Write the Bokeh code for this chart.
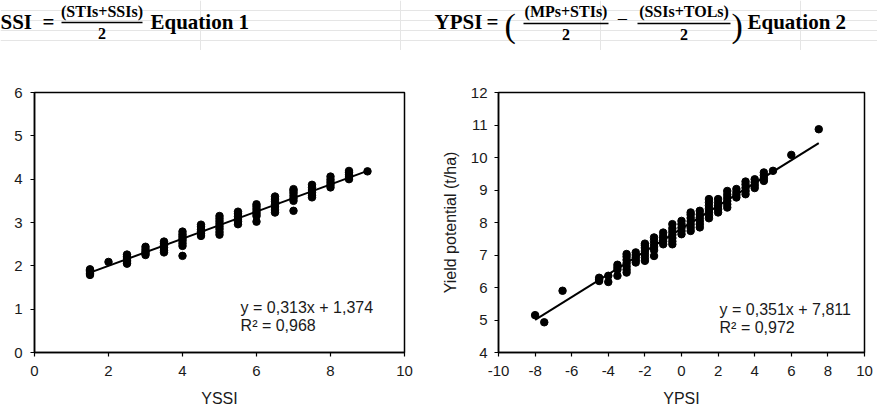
import math
from bokeh.plotting import figure
from bokeh.layouts import column, row
from bokeh.models import Range1d, SingleIntervalTicker, ColumnDataSource, PrintfTickFormatter
from bokeh.core.properties import value
from bokeh.embed import file_html
from bokeh.resources import INLINE

# ---------------- data ----------------
# Panel 1: YSSI vs yield under stress
yssi_x = [1.5, 1.5, 1.5, 1.5, 1.5,
          2.0,
          2.5, 2.5, 2.5, 2.5, 2.5, 2.5,
          3.0, 3.0, 3.0, 3.0, 3.0,
          3.5, 3.5, 3.5, 3.5, 3.5, 3.5,
          4.0, 4.0, 4.0, 4.0, 4.0, 4.0, 4.0, 4.0,
          4.5, 4.5, 4.5, 4.5, 4.5, 4.5,
          5.0, 5.0, 5.0, 5.0, 5.0, 5.0, 5.0, 5.0,
          5.5, 5.5, 5.5, 5.5, 5.5, 5.5,
          6.0, 6.0, 6.0, 6.0, 6.0, 6.0, 6.0,
          6.5, 6.5, 6.5, 6.5, 6.5, 6.5, 6.5,
          7.0, 7.0, 7.0, 7.0, 7.0, 7.0, 7.0,
          7.5, 7.5, 7.5, 7.5, 7.5, 7.5,
          8.0, 8.0, 8.0, 8.0, 8.0,
          8.5, 8.5, 8.5, 8.5, 8.5,
          9.0]
ys_y = [1.79, 1.83, 1.86, 1.89, 1.92,
        2.09,
        2.05, 2.09, 2.13, 2.18, 2.22, 2.26,
        2.25, 2.29, 2.33, 2.38, 2.44,
        2.31, 2.36, 2.42, 2.47, 2.52, 2.56,
        2.23, 2.46, 2.52, 2.58, 2.63, 2.68, 2.73, 2.79,
        2.69, 2.74, 2.79, 2.84, 2.90, 2.95,
        2.72, 2.78, 2.85, 2.91, 2.97, 3.03, 3.09, 3.15,
        2.96, 3.02, 3.08, 3.14, 3.20, 3.25,
        3.02, 3.15, 3.20, 3.25, 3.31, 3.37, 3.42,
        3.23, 3.29, 3.36, 3.42, 3.48, 3.54, 3.60,
        3.27, 3.50, 3.56, 3.62, 3.68, 3.73, 3.77,
        3.58, 3.63, 3.69, 3.75, 3.81, 3.87,
        3.81, 3.87, 3.93, 3.99, 4.06,
        4.00, 4.05, 4.10, 4.15, 4.19,
        4.18]
fit1_slope = 0.313
fit1_intercept = 1.374
fit1_text = ["y = 0,313x + 1,374", "R² = 0,968"]

# Panel 2: YPSI vs yield potential
ypsi_x = [-8.0, -7.5, -6.5,
          -4.5, -4.5, -4.5,
          -4.0, -4.0,
          -3.5, -3.5, -3.5, -3.5,
          -3.0, -3.0, -3.0, -3.0, -3.0, -3.0, -3.0,
          -2.5, -2.5, -2.5, -2.5, -2.5,
          -2.0, -2.0, -2.0, -2.0, -2.0, -2.0, -2.0,
          -1.5, -1.5, -1.5, -1.5, -1.5, -1.5,
          -1.0, -1.0, -1.0, -1.0, -1.0,
          -0.5, -0.5, -0.5, -0.5, -0.5, -0.5, -0.5,
          0.0, 0.0, 0.0, 0.0, 0.0,
          0.5, 0.5, 0.5, 0.5, 0.5, 0.5, 0.5,
          1.0, 1.0, 1.0, 1.0, 1.0, 1.0,
          1.5, 1.5, 1.5, 1.5, 1.5, 1.5, 1.5,
          2.0, 2.0, 2.0, 2.0, 2.0,
          2.5, 2.5, 2.5, 2.5, 2.5, 2.5,
          3.0, 3.0, 3.0, 3.0,
          3.5, 3.5, 3.5, 3.5, 3.5,
          4.0, 4.0, 4.0, 4.0,
          4.5, 4.5, 4.5, 4.5,
          5.0, 6.0, 7.5]
yp_y = [5.15, 4.93, 5.90,
        6.20, 6.25, 6.30,
        6.17, 6.36,
        6.36, 6.55, 6.62, 6.70,
        6.46, 6.55, 6.65, 6.75, 6.85, 6.95, 7.03,
        6.77, 6.85, 6.93, 7.00, 7.08,
        6.82, 6.92, 7.02, 7.12, 7.22, 7.30, 7.35,
        6.97, 7.15, 7.25, 7.35, 7.45, 7.54,
        7.33, 7.42, 7.50, 7.58, 7.69,
        7.33, 7.42, 7.52, 7.62, 7.72, 7.82, 7.95,
        7.64, 7.74, 7.84, 7.95, 8.05,
        7.74, 7.84, 7.94, 8.04, 8.14, 8.24, 8.31,
        7.85, 7.95, 8.05, 8.15, 8.25, 8.36,
        8.13, 8.22, 8.32, 8.42, 8.52, 8.62, 8.72,
        8.31, 8.41, 8.51, 8.61, 8.72,
        8.46, 8.56, 8.66, 8.76, 8.86, 8.97,
        8.77, 8.85, 8.93, 9.03,
        8.87, 8.97, 9.07, 9.17, 9.26,
        9.06, 9.15, 9.24, 9.33,
        9.28, 9.36, 9.45, 9.54,
        9.59, 10.08, 10.87]
fit2_slope = 0.351
fit2_intercept = 7.811
fit2_text = ["y = 0,351x + 7,811", "R² = 0,972"]

x1_label = "YSSI"
x2_label = "YPSI"
y2_label = "Yield potential (t/ha)"

eq1_parts = ["SSI", "=", "(STIs+SSIs)", "2", "Equation 1"]
eq2_parts = ["YPSI", "=", "(MPs+STIs)", "2", "−", "(SSIs+TOLs)", "2", "Equation 2"]

# ---------------- styling helpers ----------------
SANS = "Liberation Sans"
SERIF = "Liberation Serif"
TXT = "#1a1a1a"


def style_axes(p, xint, yint, y_standoff):
    p.xaxis.ticker = SingleIntervalTicker(interval=xint, num_minor_ticks=0)
    p.yaxis.ticker = SingleIntervalTicker(interval=yint, num_minor_ticks=0)
    for ax in (p.xaxis, p.yaxis):
        ax.formatter = PrintfTickFormatter(format="%d")
        ax.axis_line_color = "black"
        ax.axis_line_width = 1.5
        ax.major_tick_line_color = "black"
        ax.major_tick_line_width = 1.2
        ax.major_tick_out = 4
        ax.major_tick_in = 0
        ax.minor_tick_line_color = None
        ax.major_label_text_font = SANS
        ax.major_label_text_font_size = "15px"
        ax.major_label_text_color = TXT
        ax.axis_label_text_font = SANS
        ax.axis_label_text_font_size = "16px"
        ax.axis_label_text_font_style = "normal"
        ax.axis_label_text_color = TXT
    p.xaxis.major_label_standoff = 9
    p.yaxis.major_label_standoff = y_standoff
    p.xaxis.axis_label_standoff = 11
    p.grid.visible = False
    p.outline_line_color = "black"
    p.outline_line_width = 1.5
    p.background_fill_color = "white"
    p.border_fill_color = "white"


def add_panel_data(p, xs, ys, slope, intercept, texts, tx, ty1, ty2):
    p.scatter(xs, ys, marker="circle", size=7.5, color="black")
    xl = [min(xs), max(xs)]
    yl = [slope * v + intercept for v in xl]
    p.line(xl, yl, line_color="black", line_width=2)
    src = ColumnDataSource(dict(x=[tx, tx], y=[ty1, ty2], t=texts))
    p.text(x="x", y="y", text="t", source=src, text_font=value(SANS),
           text_font_size="16px", text_color=TXT, text_align="left",
           text_baseline="alphabetic")


# ---------------- equation strip ----------------
eq = figure(width=877, height=50, x_range=Range1d(0, 877), y_range=Range1d(50, 0),
            output_backend="svg", toolbar_location=None,
            x_axis_location=None, y_axis_location=None, min_border=0)
eq.outline_line_color = None
eq.background_fill_color = "white"
eq.border_fill_color = "white"


def eqtext(x, y, t, size, align="left", bold=True, baseline="alphabetic"):
    eq.text(x=[x], y=[y], text=[t], text_font=value(SERIF), text_font_size=size,
            text_font_style="bold" if bold else "normal", text_color="black",
            text_align=align, text_baseline=baseline)


# Equation 1
eqtext(0, 21.5, eq1_parts[0], "21px")
eqtext(42, 21.5, eq1_parts[1], "21px")
eqtext(101.5, 11, eq1_parts[2], "16px", align="center")
eq.segment(x0=[61], y0=[22], x1=[142], y1=[22], line_color="black", line_width=1.3)
eqtext(101.5, 33, eq1_parts[3], "16px", align="center")
eqtext(150, 21.5, eq1_parts[4], "21px")

# Equation 2
eqtext(434, 21.5, eq2_parts[0], "21px")
eqtext(486, 21.5, eq2_parts[1], "21px")
eqtext(504, 25, "(", "34px", bold=False)
eqtext(565.5, 11, eq2_parts[2], "16px", align="center")
eq.segment(x0=[523], y0=[23], x1=[608], y1=[23], line_color="black", line_width=1.3)
eqtext(565.5, 34, eq2_parts[3], "16px", align="center")
eqtext(622, 18, eq2_parts[4], "20px", align="center", bold=False, baseline="middle")
eqtext(683.5, 11, eq2_parts[5], "16px", align="center")
eq.segment(x0=[637], y0=[23], x1=[730], y1=[23], line_color="black", line_width=1.3)
eqtext(683.5, 34, eq2_parts[6], "16px", align="center")
eqtext(731, 25, ")", "34px", bold=False)
eqtext(747, 21.5, eq2_parts[7], "21px")

# ---------------- panel 1 ----------------
p1 = figure(width=438, height=368, x_range=Range1d(0, 10), y_range=Range1d(0, 6),
            output_backend="svg", toolbar_location=None,
            min_border_left=34, min_border_right=34, min_border_top=42,
            min_border_bottom=66)
style_axes(p1, 2, 1, 8)
p1.xaxis.axis_label = x1_label
add_panel_data(p1, yssi_x, ys_y, fit1_slope, fit1_intercept, fit1_text, 5.57, 1.03, 0.62)

# ---------------- panel 2 ----------------
p2 = figure(width=439, height=368, x_range=Range1d(-10, 10), y_range=Range1d(4, 12),
            output_backend="svg", toolbar_location=None,
            min_border_left=56, min_border_right=13, min_border_top=42,
            min_border_bottom=66)
style_axes(p2, 2, 1, 7)
p2.xaxis.axis_label = x2_label
p2.yaxis.axis_label = y2_label
p2.yaxis.axis_label_standoff = 9
add_panel_data(p2, ypsi_x, yp_y, fit2_slope, fit2_intercept, fit2_text, 2.08, 5.31, 4.76)

layout = column(eq, row(p1, p2))
open("out.html", "w").write(file_html(layout, INLINE))
